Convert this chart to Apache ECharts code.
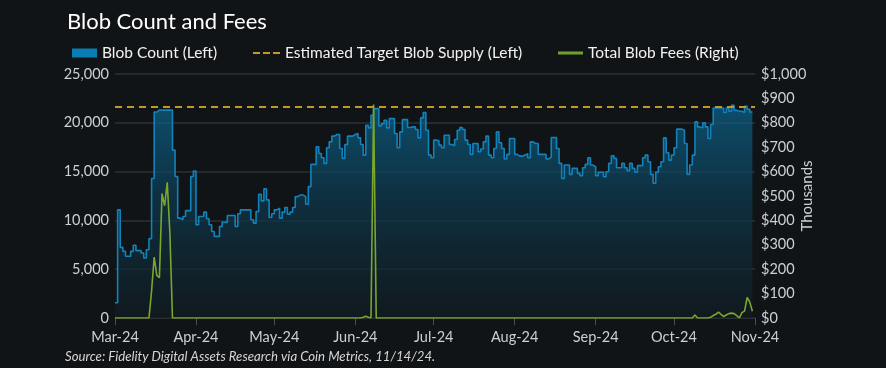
<!DOCTYPE html>
<html>
<head>
<meta charset="utf-8">
<script src="https://cdn.jsdelivr.net/npm/echarts@6/dist/echarts.min.js"></script>
<style>
  html, body { margin: 0; padding: 0; background: #111416; }
  #chart { width: 886px; height: 368px; }
</style>
</head>
<body>
<div id="chart"></div>
<script>
// ---- Data ----
const startDate = '2024-03-01';
const endDate = '2024-11-01';
const monthLabels = { '2024-03': 'Mar-24', '2024-04': 'Apr-24', '2024-05': 'May-24', '2024-06': 'Jun-24',
  '2024-07': 'Jul-24', '2024-08': 'Aug-24', '2024-09': 'Sep-24', '2024-10': 'Oct-24', '2024-11': 'Nov-24' };

// Daily blob count, Mar 1 .. Oct 31 2024
const blobCount = [
  1560, 11080, 7240, 6830, 6320, 6320, 6830, 7450, 6900, 6900,
  6660, 6150, 7000, 8130, 14300, 21100, 21300, 21300, 21300, 21300,
  21300, 21300, 17200, 14500, 10230, 10060, 10400, 11000, 11000, 14500,
  15060, 9550, 10400, 10400, 10850, 10170, 9550, 8870, 8360, 8360,
  9380, 9800, 9800, 10500, 10500, 10500, 9380, 10680, 11080, 11080,
  11080, 11080, 10060, 9720, 10900, 12680, 12000, 13230, 12100, 10300,
  10680, 11080,
  11250, 10230, 10850, 11320, 10640, 10850, 11320, 12440, 12610, 12610,
  12440, 11660, 13460, 15740, 15740, 17540, 16860, 16420, 15840, 17440,
  18050, 18630, 18800, 18800, 17370, 16350, 17780, 18630, 18630, 18800,
  18900, 18460, 17780, 16690, 19750, 19480, 20770, 21450, 21450, 19690,
  19920, 20260, 19480, 20430, 20430, 18900, 17440, 19070, 20330, 20330,
  19520, 19580, 19580, 19310, 18460, 20500, 21050, 19240, 16690, 16420,
  18220,
  18150, 17710, 17440, 18730, 18730, 17780, 17650, 18290, 19240, 19520,
  19310, 18220, 17780, 16760, 17880, 17880, 17030, 17310, 18050, 18630,
  16690, 16420, 17370, 19070, 17950, 17370, 16290, 16760, 18390, 18390,
  16760, 16590, 16590, 16690, 16830, 16420, 18050, 17880, 17880, 16760,
  16760, 16760, 16290, 16460, 18500, 18500, 17370, 15840, 14310, 15670,
  15670, 14720, 15330, 15330, 14820, 14590, 15400, 15740, 16420, 15670,
  15500,
  14590, 14930, 14930, 14480, 14990, 15840, 16630, 16350, 15400, 15400,
  15840, 15400, 15100, 15840, 15330, 14930, 15610, 15610, 16420, 16690,
  16010, 14720, 13800, 14930, 15500, 16010, 18460, 16930, 16180, 16690,
  17440, 19350, 19350, 19240, 17880, 14720, 15670, 16690, 20090, 19580,
  19480, 19990, 19580, 18390, 19820, 21520, 21520, 21520, 21520, 21050,
  21520, 21180, 21790, 21280, 21180, 21180, 21050, 21690, 21390, 21110,
  21050
];

// Daily total blob fees, $ thousands, Mar 1 .. Oct 31 2024
const blobFees = [
  0, 0, 0, 0, 0, 0, 0, 0, 0, 0, 0, 0, 0, 0, 110, 250, 175, 165, 510, 460,
  556, 350, 0, 0, 0, 0, 0, 0, 0, 0, 0, 0, 0, 0, 0, 0, 0, 0, 0, 0,
  0, 0, 0, 0, 0, 0, 0, 0, 0, 0, 0, 0, 0, 0, 0, 0, 0, 0, 0, 0,
  0, 0, 0, 0, 0, 0, 0, 0, 0, 0, 0, 0, 0, 0, 0, 0, 0, 0, 0, 0,
  0, 0, 0, 0, 0, 0, 0, 0, 0, 0, 0, 0, 0, 0, 0, 3, 7, 3, 0, 875,
  0, 0, 0, 0, 0, 0, 0, 0, 0, 0, 0, 0, 0, 0, 0, 0, 0, 0, 0, 0,
  0, 0, 0, 0, 0, 0, 0, 0, 0, 0, 0, 0, 0, 0, 0, 0, 0, 0, 0, 0,
  0, 0, 0, 0, 0, 0, 0, 0, 0, 0, 0, 0, 0, 0, 0, 0, 0, 0, 0, 0,
  0, 0, 0, 0, 0, 0, 0, 0, 0, 0, 0, 0, 0, 0, 0, 0, 0, 0, 0, 0,
  0, 0, 0, 0, 0, 0, 0, 0, 0, 0, 0, 0, 0, 0, 0, 0, 0, 0, 0, 0,
  0, 0, 0, 0, 0, 0, 0, 0, 0, 0, 0, 0, 0, 0, 0, 0, 0, 0, 0, 0,
  0, 0, 12, 0, 0, 0, 0, 0, 3, 10, 15, 24, 15, 6, 12, 18, 20, 18, 10, 0,
  22, 28, 84, 65, 28
];

const targetBlobSupply = 21600;

const leftTicks = { min: 0, max: 25000, interval: 5000 };
const rightTicks = { min: 0, max: 1000, interval: 100 };

// ---- Build daily categories ----
const categories = [];
{
  const d = new Date(startDate + 'T00:00:00Z');
  const end = new Date(endDate + 'T00:00:00Z');
  while (d <= end) {
    categories.push(d.toISOString().slice(0, 10));
    d.setUTCDate(d.getUTCDate() + 1);
  }
}
const isMonthStart = (idx, val) => val.slice(8, 10) === '01';

const FONT = 'Lato';
const chart = echarts.init(document.getElementById('chart'), null, { renderer: 'canvas' });

const legendText = { color: '#f2f2f2', fontSize: 15.5, fontFamily: FONT };

chart.setOption({
  backgroundColor: '#111416',
  animation: false,
  title: {
    text: 'Blob Count and Fees',
    left: 62, top: 6,
    textStyle: { color: '#ffffff', fontSize: 22, fontWeight: 'normal', fontFamily: FONT }
  },
  legend: [
    { data: [{ name: 'Blob Count (Left)', icon: 'rect' }], left: 67, top: 40,
      itemWidth: 25, itemHeight: 9, itemGap: 0, textStyle: legendText, selectedMode: false },
    { data: [{ name: 'Estimated Target Blob Supply (Left)', icon: 'path://M0,0H7V2H0Z M10,0H17V2H10Z M20,0H27V2H20Z' }],
      left: 248, top: 40, itemWidth: 27, itemHeight: 2, itemGap: 0, textStyle: legendText, selectedMode: false },
    { data: [{ name: 'Total Blob Fees (Right)', icon: 'rect' }], left: 553, top: 40,
      itemWidth: 25, itemHeight: 3, itemGap: 0, textStyle: legendText, selectedMode: false }
  ],
  graphic: [{
    type: 'text', left: 65, top: 350,
    style: { text: 'Source: Fidelity Digital Assets Research via Coin Metrics, 11/14/24.',
      fill: '#d6d6d6', font: 'italic 13.2px ' + FONT }
  }],
  grid: { left: 115, right: 131, top: 74, bottom: 50, containLabel: false },
  xAxis: {
    type: 'category',
    data: categories,
    boundaryGap: false,
    axisLine: { show: true, lineStyle: { color: '#2c3034', width: 1 } },
    axisTick: { show: true, interval: isMonthStart, length: 7, lineStyle: { color: '#4a5055' } },
    axisLabel: {
      interval: isMonthStart,
      formatter: v => monthLabels[v.slice(0, 7)] || '',
      color: '#c9d0d6', fontSize: 14.5, fontFamily: FONT, margin: 12
    },
    splitLine: { show: false }
  },
  yAxis: [
    {
      type: 'value', min: leftTicks.min, max: leftTicks.max, interval: leftTicks.interval,
      axisLine: { show: false }, axisTick: { show: false },
      axisLabel: { formatter: v => v.toLocaleString('en-US'), color: '#c9d0d6', fontSize: 14.5, fontFamily: FONT, margin: 6 },
      splitLine: { show: true, lineStyle: { color: '#2c3034', width: 1.5 } }
    },
    {
      type: 'value', position: 'right', min: rightTicks.min, max: rightTicks.max, interval: rightTicks.interval,
      axisLine: { show: false }, axisTick: { show: false },
      axisLabel: { formatter: v => '$' + v.toLocaleString('en-US'), color: '#c9d0d6', fontSize: 14.5, fontFamily: FONT, margin: 6 },
      splitLine: { show: false },
      name: 'Thousands', nameLocation: 'middle', nameRotate: 90, nameGap: 45, nameMoveOverlap: false,
      nameTextStyle: { color: '#c9d0d6', fontSize: 15, fontFamily: FONT }
    }
  ],
  series: [
    {
      name: 'Blob Count (Left)', type: 'line', step: 'end', data: blobCount,
      symbol: 'none', color: '#0a7db3',
      lineStyle: { color: '#1282bb', width: 1.6 },
      areaStyle: {
        color: new echarts.graphic.LinearGradient(0, 0, 0, 1, [
          { offset: 0, color: '#0b6690' },
          { offset: 0.45, color: '#0d3a50' },
          { offset: 1, color: '#111b21' }
        ])
      },
      z: 2
    },
    {
      name: 'Total Blob Fees (Right)', type: 'line', yAxisIndex: 1, data: blobFees,
      symbol: 'none', color: '#73a02a',
      lineStyle: { color: '#7aa62b', width: 1.6 },
      z: 3
    },
    {
      name: 'Estimated Target Blob Supply (Left)', type: 'line', data: [],
      symbol: 'none', color: '#c09a25',
      markLine: {
        silent: true, symbol: 'none', label: { show: false },
        lineStyle: { color: '#c09a25', type: [7, 5], width: 2 },
        data: [{ yAxis: targetBlobSupply }]
      },
      z: 4
    }
  ]
});
</script>
</body>
</html>
